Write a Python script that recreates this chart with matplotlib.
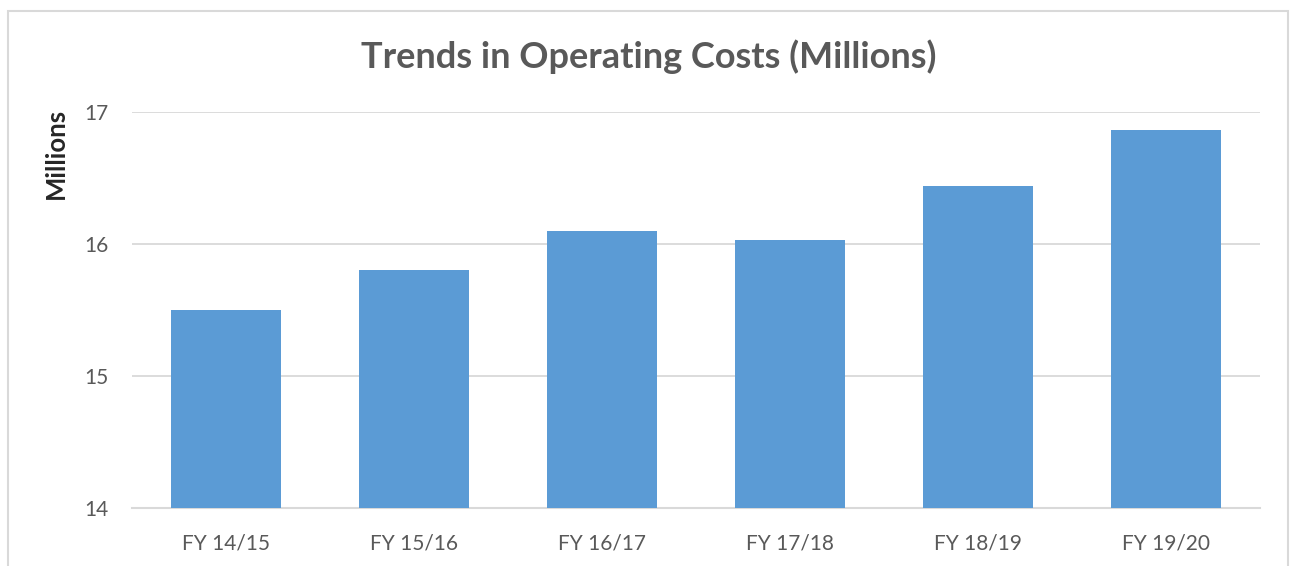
import matplotlib
matplotlib.use("Agg")
import matplotlib.pyplot as plt
from matplotlib.patches import Rectangle

categories = ["FY 14/15", "FY 15/16", "FY 16/17", "FY 17/18", "FY 18/19", "FY 19/20"]
values = [15.50, 15.80, 16.10, 16.03, 16.44, 16.86]
yticks = [14, 15, 16, 17]

plt.rcParams['font.family'] = ['Lato', 'DejaVu Sans']
W, H = 1291, 566
fig = plt.figure(figsize=(W/100, H/100), dpi=100)
fig.patch.set_facecolor('white')

# outer chart border
fig.add_artist(Rectangle((8/W, -0.1), (1288-8)/W, 1.1 - 11/H + 0.0, transform=fig.transFigure,
                         fill=False, edgecolor='#D9D9D9', linewidth=1.5))

ax = fig.add_axes([132/W, 1 - 508/H, (1260-132)/W, (508-112)/H])
x = range(len(categories))
ax.bar(x, [v - 14 for v in values], bottom=14, width=0.59, color='#5B9BD5', zorder=3)
ax.set_xlim(-0.5, len(categories) - 0.5)
ax.set_ylim(14, 17)
ax.set_yticks(yticks)
ax.set_yticklabels([str(t) for t in yticks])
ax.set_xticks(list(x))
ax.set_xticklabels(categories)
ax.grid(axis='y', color='#D9D9D9', linewidth=1.3, zorder=0)
for s in ['top', 'right', 'left']:
    ax.spines[s].set_visible(False)
ax.spines['bottom'].set_color('#D9D9D9')
ax.spines['bottom'].set_linewidth(1.5)
ax.tick_params(axis='both', length=0, colors='#595959', labelsize=15)
ax.tick_params(axis='y', pad=17)
ax.tick_params(axis='x', pad=18)
fig.text(56/W, 1 - 153/H, "Millions", ha='center', va='center', rotation=90,
         fontsize=18.5, fontweight='bold', color='#262626')
fig.text(649/W, 1 - 57/H, "Trends in Operating Costs (Millions)", ha='center', va='center',
         fontsize=26, fontweight='bold', color='#595959')

fig.savefig("out.png", dpi=100, facecolor='white')
